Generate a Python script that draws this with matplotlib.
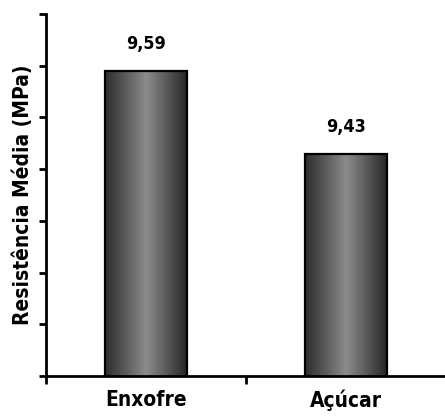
import numpy as np
import matplotlib
matplotlib.use("Agg")
import matplotlib.pyplot as plt
from matplotlib.colors import LinearSegmentedColormap

categories = ["Enxofre", "Açúcar"]
values = [9.59, 9.43]
value_labels = ["9,59", "9,43"]
y_label = "Resistência Média (MPa)"

W, H = 445, 419
fig = plt.figure(figsize=(W / 100, H / 100), dpi=100)
ax = fig.add_axes([46 / W, (H - 376) / H, 400 / W, 362 / H])

font = dict(family=["DejaVu Sans"], weight="bold", stretch="condensed")

x = np.arange(len(categories))
bars = ax.bar(x, values, width=0.41, bottom=0, color="none",
              edgecolor="black", linewidth=1.6, zorder=3)

ax.set_xlim(-0.5, 1.5)
ax.set_ylim(9.0, 9.7)

# horizontal grey gradient inside each bar: dark edges, light centre
cmap = LinearSegmentedColormap.from_list(
    "bar", ["#2e2e2e", "#5a5a5a", "#8c8c8c", "#5a5a5a", "#262626"])
grad = np.linspace(0, 1, 256).reshape(1, -1)
for b in bars:
    x0, w, h = b.get_x(), b.get_width(), b.get_height()
    im = ax.imshow(grad, cmap=cmap, aspect="auto",
                   extent=[x0, x0 + w, 9.0, h], zorder=2)
    im.set_clip_path(b)

for xi, v, lab in zip(x, values, value_labels):
    ax.annotate(lab, (xi, v), xytext=(0, 27), textcoords="offset pixels",
                ha="center", va="center", fontsize=13, **font)

for s in ("top", "right"):
    ax.spines[s].set_visible(False)
for s in ("left", "bottom"):
    ax.spines[s].set_linewidth(2)

ax.set_yticks(np.arange(9.0, 9.71, 0.1))
ax.set_yticklabels([])
ax.tick_params(axis="y", direction="out", length=5, width=2)

ax.set_xticks([-0.5, 0.5, 1.5], minor=True)
ax.tick_params(axis="x", which="minor", direction="out", length=6, width=2)
ax.set_xticks(x)
ax.set_xticklabels(categories, fontsize=15, **font)
ax.tick_params(axis="x", which="major", length=0, pad=10)

ax.set_ylabel(y_label, fontsize=15, **font)
ax.yaxis.set_label_coords(-13 / 400, 0.5)

fig.savefig("out.png", dpi=100)
